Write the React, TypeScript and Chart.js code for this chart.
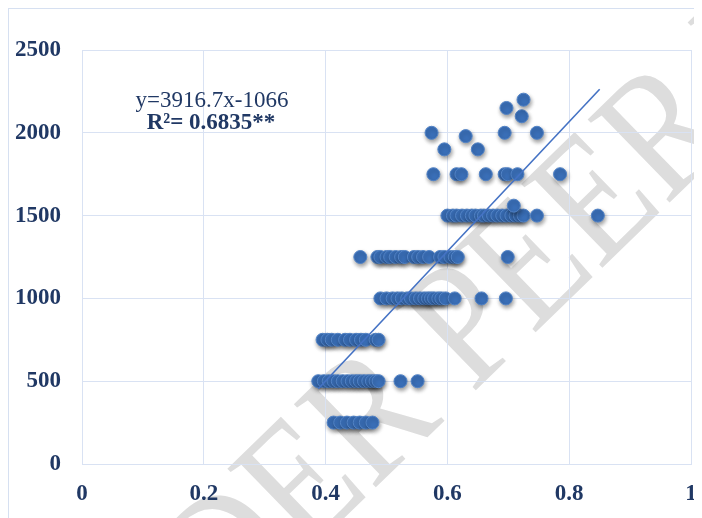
import React, { useEffect, useRef } from "react";
import { Chart, registerables } from "chart.js";

Chart.register(...registerables);

// ---- data ----
const row250 = [0.413, 0.424, 0.435, 0.446, 0.456, 0.466, 0.477];
const row500 = [0.388, 0.397, 0.405, 0.413, 0.42, 0.428, 0.436, 0.443, 0.45, 0.456, 0.463, 0.47, 0.476, 0.482, 0.487, 0.523, 0.551];
const row750 = [0.395, 0.403, 0.41, 0.42, 0.432, 0.44, 0.45, 0.458, 0.466, 0.482, 0.487];
const row1000 = [0.49, 0.5, 0.51, 0.518, 0.525, 0.534, 0.54, 0.548, 0.555, 0.562, 0.568, 0.573, 0.578, 0.585, 0.59, 0.597, 0.612, 0.656, 0.696];
const row1250 = [0.457, 0.485, 0.49, 0.5, 0.506, 0.515, 0.524, 0.53, 0.545, 0.552, 0.56, 0.57, 0.588, 0.595, 0.605, 0.612, 0.617, 0.699];
const row1500 = [0.6, 0.609, 0.615, 0.624, 0.632, 0.64, 0.646, 0.655, 0.66, 0.668, 0.675, 0.682, 0.69, 0.697, 0.705, 0.712, 0.719, 0.725, 0.747, 0.847];
const row1750 = [0.577, 0.615, 0.623, 0.663, 0.694, 0.699, 0.715, 0.785];
const extraX = [0.709, 0.595, 0.65, 0.63, 0.574, 0.694, 0.747, 0.722, 0.697, 0.725];
const extraY = [1560, 1900, 1900, 1980, 2000, 2000, 2000, 2100, 2150, 2200];

const trendX = [0.388, 0.85];
const trendY = [454, 2263];

const xTickLabels = ["0", "0.2", "0.4", "0.6", "0.8", "1"];
const yTickLabels = ["0", "500", "1000", "1500", "2000", "2500"];

const equationText = "y=3916.7x-1066";
const r2Text = "R²= 0.6835**";
const watermarkText = "UNDER PEER REVIEW";
const watermarkPrefix = "UNDER ";

const POINT_COLOR = "#3A6FB8";
const TEXT_COLOR = "#203864";
const GRID_COLOR = "#D9E2F3";

function buildPoints() {
  const pts: { x: number; y: number }[] = [];
  const add = (xs: number[], y: number) => xs.forEach((x) => pts.push({ x, y }));
  add(row250, 250);
  add(row500, 500);
  add(row750, 750);
  add(row1000, 1000);
  add(row1250, 1250);
  add(row1500, 1500);
  add(row1750, 1750);
  extraX.forEach((x, i) => pts.push({ x, y: extraY[i] }));
  return pts;
}

const shadowPlugin = {
  id: "pointShadow",
  beforeDatasetDraw(chart: any, args: any) {
    if (args.index === 1) {
      const ctx = chart.ctx;
      ctx.save();
      ctx.shadowColor = "rgba(0,0,0,0.4)";
      ctx.shadowBlur = 4;
      ctx.shadowOffsetX = 1;
      ctx.shadowOffsetY = 2.5;
    }
  },
  afterDatasetDraw(chart: any, args: any) {
    if (args.index === 1) chart.ctx.restore();
  },
};

const watermarkPlugin = {
  id: "watermark",
  beforeDraw(chart: any) {
    const ctx = chart.ctx;
    ctx.save();
    ctx.translate(463, 385);
    ctx.rotate(-0.77);
    ctx.scale(0.92, 1.08);
    ctx.font = "165px 'Liberation Serif'";
    ctx.fillStyle = "#DDDDDD";
    ctx.textAlign = "left";
    ctx.textBaseline = "alphabetic";
    const off = ctx.measureText(watermarkPrefix).width;
    ctx.fillText(watermarkText, -off, 0);
    ctx.restore();
  },
};

const annotationPlugin = {
  id: "equation",
  afterDatasetsDraw(chart: any) {
    const ctx = chart.ctx;
    const a = chart.chartArea;
    ctx.save();
    ctx.fillStyle = TEXT_COLOR;
    ctx.textAlign = "center";
    ctx.textBaseline = "middle";
    ctx.font = "23px 'Liberation Serif'";
    ctx.fillText(equationText, a.left + 130, a.top + 51);
    ctx.font = "bold 23px 'Liberation Serif'";
    ctx.fillText(r2Text, a.left + 129, a.top + 73);
    ctx.restore();
  },
};

export default function App() {
  const ref = useRef<HTMLCanvasElement | null>(null);
  useEffect(() => {
    document.documentElement.style.overflow = "hidden";
    document.body.style.overflow = "hidden";
    const canvas = ref.current!;
    const tickFont = { family: "'Liberation Serif'", size: 23, weight: "bold" as const };
    const chart = new Chart(canvas, {
      data: {
        datasets: [
          {
            type: "line",
            data: trendX.map((x, i) => ({ x, y: trendY[i] })),
            borderColor: "#4472C4",
            borderWidth: 1.6,
            pointRadius: 0,
            fill: false,
          },
          {
            type: "scatter",
            data: buildPoints(),
            backgroundColor: POINT_COLOR,
            borderColor: "#5283C6",
            borderWidth: 1,
            pointRadius: 6.5,
          },
        ],
      },
      options: {
        responsive: false,
        animation: false,
        plugins: { legend: { display: false }, tooltip: { enabled: false } },
        layout: { padding: { top: 41, right: 11, left: 0, bottom: 0 } },
        scales: {
          x: {
            type: "linear",
            min: 0,
            max: 1,
            afterFit(s: any) {
              s.height = 54;
              s.paddingLeft = 0;
              s.paddingRight = 0;
            },
            ticks: {
              stepSize: 0.2,
              padding: 16,
              color: TEXT_COLOR,
              font: tickFont,
              maxRotation: 0,
              callback: (_v: any, i: number) => xTickLabels[i],
            },
            grid: { color: GRID_COLOR, drawTicks: false, lineWidth: 1 },
            border: { color: GRID_COLOR },
          },
          y: {
            type: "linear",
            min: 0,
            max: 2500,
            afterFit(s: any) {
              s.width = 73;
              s.paddingTop = 0;
              s.paddingBottom = 0;
            },
            ticks: {
              stepSize: 500,
              padding: 21,
              color: TEXT_COLOR,
              font: tickFont,
              callback: (_v: any, i: number) => yTickLabels[i],
            },
            grid: { color: GRID_COLOR, drawTicks: false, lineWidth: 1 },
            border: { color: GRID_COLOR },
          },
        },
      },
      plugins: [watermarkPlugin, shadowPlugin, annotationPlugin],
    } as any);
    return () => chart.destroy();
  }, []);

  return (
    <div
      style={{
        position: "relative",
        width: 693,
        height: 509,
        borderLeft: "1px solid #D6E0F1",
        borderTop: "1px solid #D6E0F1",
      }}
    >
      <canvas ref={ref} width={693} height={509} style={{ display: "block", width: 693, height: 509 }} />
    </div>
  );
}
